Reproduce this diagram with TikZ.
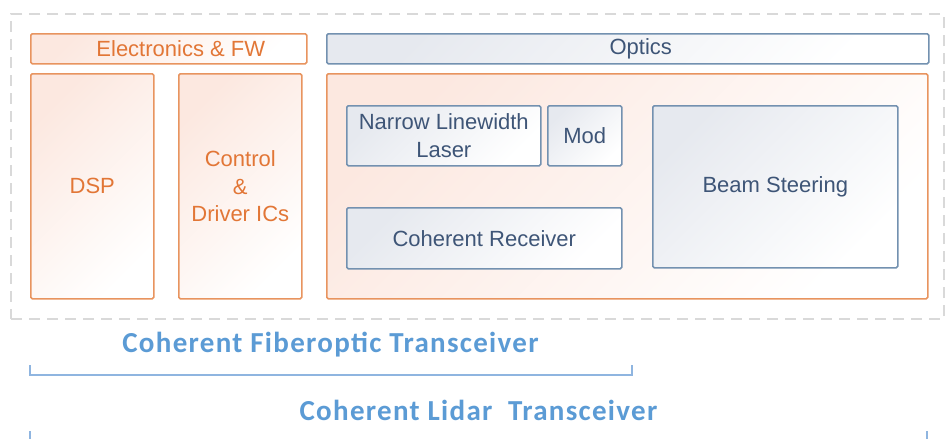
\documentclass[tikz,border=0pt]{standalone}
\usepackage{fontspec}
\setmainfont{Liberation Sans}
\newfontfamily\titlefont[LetterSpace=4.5]{Carlito}
\definecolor{orline}{HTML}{E8945F}
\definecolor{ortext}{HTML}{E27636}
\definecolor{orfill}{HTML}{FCE8E0}
\definecolor{blline}{HTML}{7391B0}
\definecolor{bltext}{HTML}{3E5577}
\definecolor{blfill}{HTML}{E6E9EF}
\definecolor{dashgray}{HTML}{D9D9D9}
\definecolor{titleblue}{HTML}{5B9BD5}
\definecolor{bracketblue}{HTML}{8FB5E0}
\tikzset{
  basebox/.style={rectangle, rounded corners=1.5pt, line width=1.6pt, anchor=north west,
    inner sep=0pt, align=center, font=\fontsize{22}{27.5}\selectfont},
  obox/.style={basebox, draw=orline, top color=orfill, bottom color=white, shading angle=45, text=ortext},
  bbox/.style={basebox, draw=blline, top color=blfill, bottom color=white, shading angle=45, text=bltext},
  ttl/.style={font=\titlefont\bfseries\fontsize{29}{34}\selectfont, text=titleblue, inner sep=0pt},
  brk/.style={draw=bracketblue, line width=1.5pt}
}
\begin{document}
\begin{tikzpicture}[x=1pt,y=-1pt]
\useasboundingbox (0,0) rectangle (945,439);
\clip (0,0) rectangle (945,439);
\fill[white] (0,0) rectangle (945,439);
% outer dashed frame
\node[draw=dashgray, line width=2.2pt, dash pattern=on 11pt off 7pt, anchor=north west,
      minimum width=933pt, minimum height=305pt, inner sep=0pt] (frame) at (10,13) {};
% headers
\node[obox, minimum width=276pt, minimum height=30pt] (elec) at (30,33) {\hspace*{24pt}Electronics \& FW};
\node[bbox, minimum width=602pt, minimum height=30pt] (opthdr) at (326,33) {\hspace*{26pt}Optics};
% electronics blocks
\node[obox, minimum width=123pt, minimum height=225pt] (dsp) at (30,73) {DSP};
\node[obox, minimum width=123pt, minimum height=225pt] (ctrl) at (178,73) {Control\\\&\\Driver ICs};
% optics container
\node[obox, minimum width=601pt, minimum height=225pt] (optics) at (326,73) {};
% optics blocks
\node[bbox, minimum width=194pt, minimum height=60pt] (laser) at (346,105) {Narrow Linewidth\\Laser};
\node[bbox, minimum width=74pt, minimum height=60pt] (mod) at (547,105) {Mod};
\node[bbox, minimum width=275pt, minimum height=61pt] (rx) at (346,207) {Coherent Receiver};
\node[bbox, minimum width=245pt, minimum height=162pt] (beam) at (652,105) {Beam Steering};
% titles
\node[ttl] (fiber) at (330.5,345) {Coherent Fiberoptic Transceiver};
\node[ttl] (lidar) at (478.5,410) {Coherent Lidar\ \ Transceiver};
% brackets
\coordinate (fa) at (30,365);
\coordinate (fb) at (632,365);
\draw[brk] (fa) |- (fb |- 0,375) -- (fb);
\coordinate (la) at (30,431);
\coordinate (lb) at (927,431);
\draw[brk] (la) |- (lb |- 0,440) -- (lb);
\end{tikzpicture}
\end{document}
